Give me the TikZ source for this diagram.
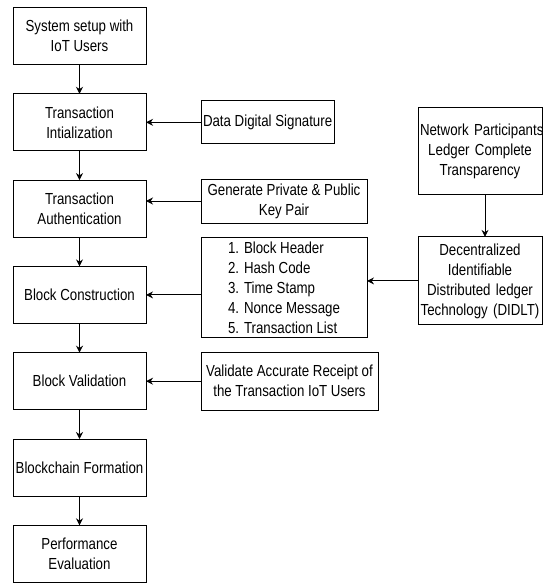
\documentclass[tikz,border=0pt]{standalone}
\usepackage{fontspec}
\setmainfont{Liberation Sans}[FakeStretch=0.83]
\usetikzlibrary{positioning,chains,arrows.meta}

\begin{document}
\begin{tikzpicture}[
    node distance=29.3pt and 55pt,
    start chain=going below,
 stepbox/.style = {
        draw, rectangle, align=center, minimum width=133pt,
        minimum height=57pt, font=\fontsize{16}{20}\selectfont,
        inner sep=2pt, outer sep=0pt, line width=1pt,
        on chain},
 sidebox/.style = {
        draw, rectangle, align=center,
        font=\fontsize{16}{20}\selectfont,
        inner sep=2pt, outer sep=0pt, line width=1pt},
every join/.style = arrow,
     arrow/.style = {line width=1pt,-{Stealth[length=7pt,width=7pt]}}
                    ]
% picture frame
\useasboundingbox (0,0) rectangle (543pt,-583pt);
\clip (0,0) rectangle (543pt,-583pt);
\coordinate (tc) at (79.5pt,-36pt);
% the chain on the left
\node (n1) [stepbox, at=(tc)]   {System setup with\\
                                IoT Users};
\node (n2) [stepbox,join]       {Transaction\\
                                Intialization};
\node (n3) [stepbox,join]       {Transaction\\
                                Authentication};
\node (n4) [stepbox,join]       {Block Construction};
\node (n5) [stepbox,join]       {Block Validation};
\node (n6) [stepbox,join]       {Blockchain Formation};
\node (n7) [stepbox,join]       {Performance\\
                                Evaluation};
% the inputs on the right
\node (n2r) [sidebox, minimum width=133pt, minimum height=43pt,
             right=of n2]       {Data Digital Signature};
\node (n3r) [sidebox, minimum width=166pt, minimum height=44pt,
             right=of n3, yshift=7.6pt]
                                {Generate Private \& Public\\
                                Key Pair};
\node (n4r) [sidebox, align=left, minimum width=166pt, minimum height=100pt,
             right=of n4, yshift=7pt]
                                {1. Block Header\\
                                2. Hash Code\\
                                3. Time Stamp\\
                                4. Nonce Message\\
                                5. Transaction List};
\node (n5r) [sidebox, minimum width=177pt, minimum height=58pt,
             right=of n5]       {Validate Accurate Receipt of\\
                                the Transaction IoT Users};
% the ledger boxes
\node (nd)  [sidebox, text width=120pt, minimum height=88pt,
             right=51pt of n4r, yshift=7pt]
                                {\mbox{Decentralized}\\
                                \mbox{Identifiable}\\
                                \mbox{Distributed ledger}\\
                                \mbox{Technology (DIDLT)}};
\node (nn)  [sidebox, text width=120pt, minimum height=87pt,
             above=42pt of nd]  {\mbox{Network Participants}\\
                                \mbox{Ledger Complete}\\
                                \mbox{Transparency}};
% lines not included in join
\draw[arrow] (n2r) -- (n2);
\draw[arrow] (n3r) -- (n3r -| n3.east);
\draw[arrow] (n4r.west |- n4) -- (n4);
\draw[arrow] (n5r) -- (n5r -| n5.east);
\draw[arrow] ([xshift=5pt] nn.south) coordinate (c)
                                     -- (c |- nd.north);
\draw[arrow] (nd) -- (nd -| n4r.east);
\end{tikzpicture}
\end{document}
